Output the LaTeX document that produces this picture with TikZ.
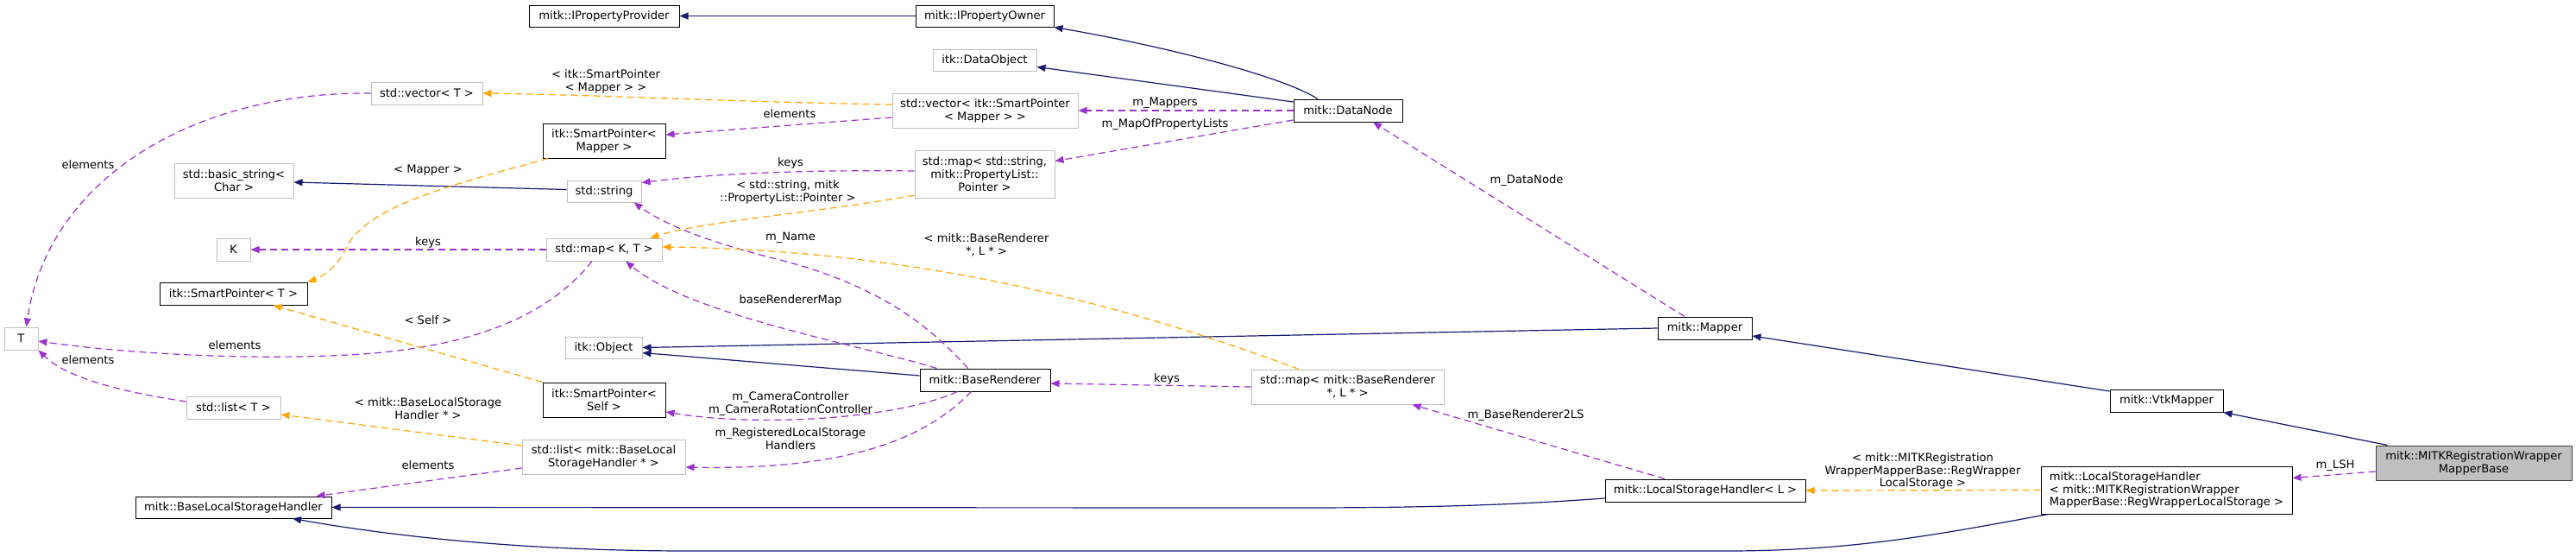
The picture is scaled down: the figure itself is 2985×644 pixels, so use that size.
\documentclass[tikz,border=0pt]{standalone}
\usepackage{fontspec}
\setmainfont{DejaVu Sans}
\usetikzlibrary{arrows.meta}
\definecolor{navy}{HTML}{191970}
\definecolor{purp}{HTML}{9A32CD}
\definecolor{orng}{HTML}{FFA500}
\definecolor{gray75}{HTML}{BFBFBF}
\definecolor{darkbd}{HTML}{404040}
\newcommand{\fs}{\fontsize{6.55pt}{7.4pt}\selectfont}
\tikzset{
  box/.style={draw=black, line width=0.5pt, inner sep=0pt, align=center, font=\fs},
  gbox/.style={box, draw=gray75},
  tbox/.style={box, draw=darkbd, fill=gray75},
  inh/.style={draw=navy, line width=0.6pt, -{Triangle[length=5pt,width=4pt]}},
  use/.style={draw=purp, line width=0.6pt, dash pattern=on 4pt off 2.5pt, -{Triangle[length=5pt,width=4pt]}},
  tpl/.style={draw=orng, line width=0.6pt, dash pattern=on 4pt off 2.5pt, -{Triangle[length=5pt,width=4pt]}},
  lbl/.style={inner sep=0pt, align=center, font=\fs}
}
\begin{document}
\begin{tikzpicture}[x=0.5pt,y=-0.5pt]
\useasboundingbox (0,0) rectangle (2985,644);
% nodes
\node[box, minimum width=87pt, minimum height=12.5pt] (ipp) at (700,18.5) {mitk::IPropertyProvider};
\node[box, minimum width=80pt, minimum height=12.5pt] (ipo) at (1141,18.5) {mitk::IPropertyOwner};
\node[gbox, minimum width=60pt, minimum height=12.5pt] (dobj) at (1141,69.5) {itk::DataObject};
\node[gbox, minimum width=64.5pt, minimum height=13pt] (vecT) at (494.5,108) {std::vector< T >};
\node[box, minimum width=71pt, minimum height=20pt] (spm) at (700,163) {itk::SmartPointer<\\Mapper >};
\node[gbox, minimum width=107.5pt, minimum height=20pt] (vecSP) at (1141.5,128) {std::vector< itk::SmartPointer\\< Mapper > >};
\node[box, minimum width=63pt, minimum height=13pt] (dn) at (1562,128) {mitk::DataNode};
\node[gbox, minimum width=69pt, minimum height=20pt] (bstr) at (271,209) {std::basic\_string<\\Char >};
\node[gbox, minimum width=43pt, minimum height=12.5pt] (str) at (700,221.5) {std::string};
\node[gbox, minimum width=81pt, minimum height=27.5pt] (mapSP) at (1141,201.5) {std::map< std::string,\\mitk::PropertyList::\\Pointer >};
\node[gbox, minimum width=19.5pt, minimum height=13pt] (K) at (270.5,289) {K};
\node[gbox, minimum width=67pt, minimum height=13pt] (mapKT) at (700,289) {std::map< K, T >};
\node[box, minimum width=85.5pt, minimum height=13pt] (spT) at (270.5,340) {itk::SmartPointer< T >};
\node[gbox, minimum width=19.5pt, minimum height=13pt] (T) at (24.5,392) {T};
\node[gbox, minimum width=44.5pt, minimum height=12.5pt] (itko) at (699.5,402.5) {itk::Object};
\node[box, minimum width=71pt, minimum height=20pt] (spS) at (700,463) {itk::SmartPointer<\\Self >};
\node[gbox, minimum width=54.5pt, minimum height=13pt] (lstT) at (270.5,472) {std::list< T >};
\node[gbox, minimum width=94.5pt, minimum height=20pt] (lstB) at (699.5,529) {std::list< mitk::BaseLocal\\StorageHandler * >};
\node[box, minimum width=113.5pt, minimum height=12.5pt] (blsh) at (270.5,587.5) {mitk::BaseLocalStorageHandler};
\node[box, minimum width=75.5pt, minimum height=13pt] (br) at (1141.5,440) {mitk::BaseRenderer};
\node[gbox, minimum width=111.5pt, minimum height=20pt] (mapBR) at (1561.5,448) {std::map< mitk::BaseRenderer\\*, L * >};
\node[box, minimum width=54.5pt, minimum height=13pt] (mapper) at (1975.5,380) {mitk::Mapper};
\node[box, minimum width=116pt, minimum height=13pt] (lshL) at (1976,568) {mitk::LocalStorageHandler< L >};
\node[box, minimum width=65.5pt, minimum height=13pt] (vtk) at (2510.5,464) {mitk::VtkMapper};
\node[box, align=left, minimum width=145.5pt, minimum height=27.5pt] (lshM) at (2510.5,567.5) {mitk::LocalStorageHandler\\< mitk::MITKRegistrationWrapper\\MapperBase::RegWrapperLocalStorage >};
\node[tbox, minimum width=113.5pt, minimum height=20pt] (tgt) at (2866.5,536) {mitk::MITKRegistrationWrapper\\MapperBase};
% inheritance
\draw[inh] (ipo.west) -- (ipp.east);
\draw[inh] ([xshift=-17.5pt]dn.north) .. controls (1480,85) and (1330,50) .. (ipo.south east);
\draw[inh] ([yshift=5pt]dn.west) -- ([yshift=-4pt]dobj.east);
\draw[inh] ([yshift=1pt]str.west) -- ([yshift=-1pt]bstr.east);
\draw[inh] (mapper.west) -- (itko.east);
\draw[inh] ([yshift=2.5pt]br.west) -- ([yshift=-3pt]itko.east);
\draw[inh] ([yshift=5.5pt]vtk.west) -- ([yshift=-4.5pt]mapper.east);
\draw[inh] ([xshift=-50pt]tgt.north) -- (vtk.south east);
\draw[inh] ([yshift=-4.5pt]lshL.west) .. controls (1750,585) and (1650,588) .. (1500,588) -- (blsh.east);
\draw[inh] ([xshift=4.5pt]lshM.south west) .. controls (2250,618) and (2150,638) .. (2000,638) -- (800,638) .. controls (600,638) and (450,620) .. ([xshift=34.25pt]blsh.south);
% usage
\draw[use] (vecT.west) .. controls (220,106) and (55,210) .. ([xshift=3pt]T.north);
\draw[use] ([xshift=-7pt]mapKT.south) .. controls (640,360) and (560,400) .. (420,410) .. controls (300,418) and (150,410) .. ([yshift=-1.5pt]T.east);
\draw[use] ([yshift=3.5pt]lstT.west) .. controls (150,455) and (80,440) .. (T.south east);
\draw[use] (mapKT.west) -- (K.east);
\draw[use] ([yshift=-4pt]vecSP.west) -- ([yshift=3.5pt]spm.east);
\draw[use] (dn.west) -- (vecSP.east);
\draw[use] ([yshift=-5.5pt]dn.west) -- ([yshift=7.5pt]mapSP.east);
\draw[use] ([yshift=1.75pt]mapSP.west) .. controls (980,197) and (850,198) .. ([yshift=5pt]str.east);
\draw[use] ([xshift=-10pt]br.north) .. controls (1080,380) and (1020,330) .. (900,300) .. controls (820,280) and (770,260) .. ([xshift=-4.5pt]str.south east);
\draw[use] ([xshift=10pt]br.north west) .. controls (1000,400) and (800,365) .. ([xshift=12.5pt]mapKT.south);
\draw[use] ([xshift=-16pt]br.south) .. controls (1040,485) and (880,495) .. ([yshift=-7pt]spS.east);
\draw[use] ([xshift=-8pt]br.south) .. controls (1080,500) and (1000,545) .. ([yshift=-6pt]lstB.east);
\draw[use] (mapBR.west) -- ([yshift=-2pt]br.east);
\draw[use] ([yshift=-6.5pt]lstB.west) -- ([xshift=48pt]blsh.north);
\draw[use] ([xshift=-11.75pt]mapper.north) -- ([xshift=14.5pt]dn.south);
\draw[use] ([xshift=-23.5pt]lshL.north) -- ([xshift=37.5pt]mapBR.south);
\draw[use] ([yshift=-5pt]tgt.west) -- ([yshift=7pt]lshM.east);
% template instances
\draw[tpl] ([yshift=3.5pt]vecSP.west) .. controls (850,118) and (700,110) .. (vecT.east);
\draw[tpl] ([xshift=-32.5pt]spm.south) .. controls (520,215) and (420,240) .. (400,290) .. controls (390,310) and (370,322) .. (spT.north east);
\draw[tpl] (spS.north west) -- ([xshift=23pt]spT.south);
\draw[tpl] ([yshift=6.5pt]lstB.west) -- ([yshift=-4pt]lstT.east);
\draw[tpl] ([yshift=-12.25pt]mapSP.west) .. controls (960,245) and (820,255) .. ([xshift=-7pt]mapKT.north east);
\draw[tpl] ([xshift=-28.25pt]mapBR.north) .. controls (1350,370) and (1100,290) .. ([yshift=1.5pt]mapKT.east);
\draw[tpl] (lshM.west) -- (lshL.east);
% labels
\node[lbl] (l1) at (702,94.5) {< itk::SmartPointer\\< Mapper > >};
\node[lbl] (l2) at (102,191) {elements};
\node[lbl] (l3) at (496,197) {< Mapper >};
\node[lbl] (l4) at (496,281) {keys};
\node[lbl] (l5) at (915,132) {elements};
\node[lbl] (l6) at (1350,119) {m\_Mappers};
\node[lbl] (l7) at (1350,144) {m\_MapOfPropertyLists};
\node[lbl] (l8) at (916,189) {keys};
\node[lbl] (l9) at (913,222) {< std::string, mitk\\::PropertyList::Pointer >};
\node[lbl] (l10) at (916,275) {m\_Name};
\node[lbl] (l11) at (1143,284) {< mitk::BaseRenderer\\*, L * >};
\node[lbl] (l12) at (916,348) {baseRendererMap};
\node[lbl] (l13) at (496,371) {< Self >};
\node[lbl] (l14) at (272,400) {elements};
\node[lbl] (l15) at (102,417) {elements};
\node[lbl] (l16) at (496,473.5) {< mitk::BaseLocalStorage\\Handler * >};
\node[lbl] (l17) at (916,467.5) {m\_CameraController\\m\_CameraRotationController};
\node[lbl] (l18) at (916,508.5) {m\_RegisteredLocalStorage\\Handlers};
\node[lbl] (l19) at (496,539) {elements};
\node[lbl] (l20) at (1352,439) {keys};
\node[lbl] (l21) at (1769,209) {m\_DataNode};
\node[lbl] (l22) at (1768,481) {m\_BaseRenderer2LS};
\node[lbl] (l23) at (2228,545.5) {< mitk::MITKRegistration\\WrapperMapperBase::RegWrapper\\LocalStorage >};
\node[lbl] (l24) at (2706,539) {m\_LSH};
\end{tikzpicture}
\end{document}
